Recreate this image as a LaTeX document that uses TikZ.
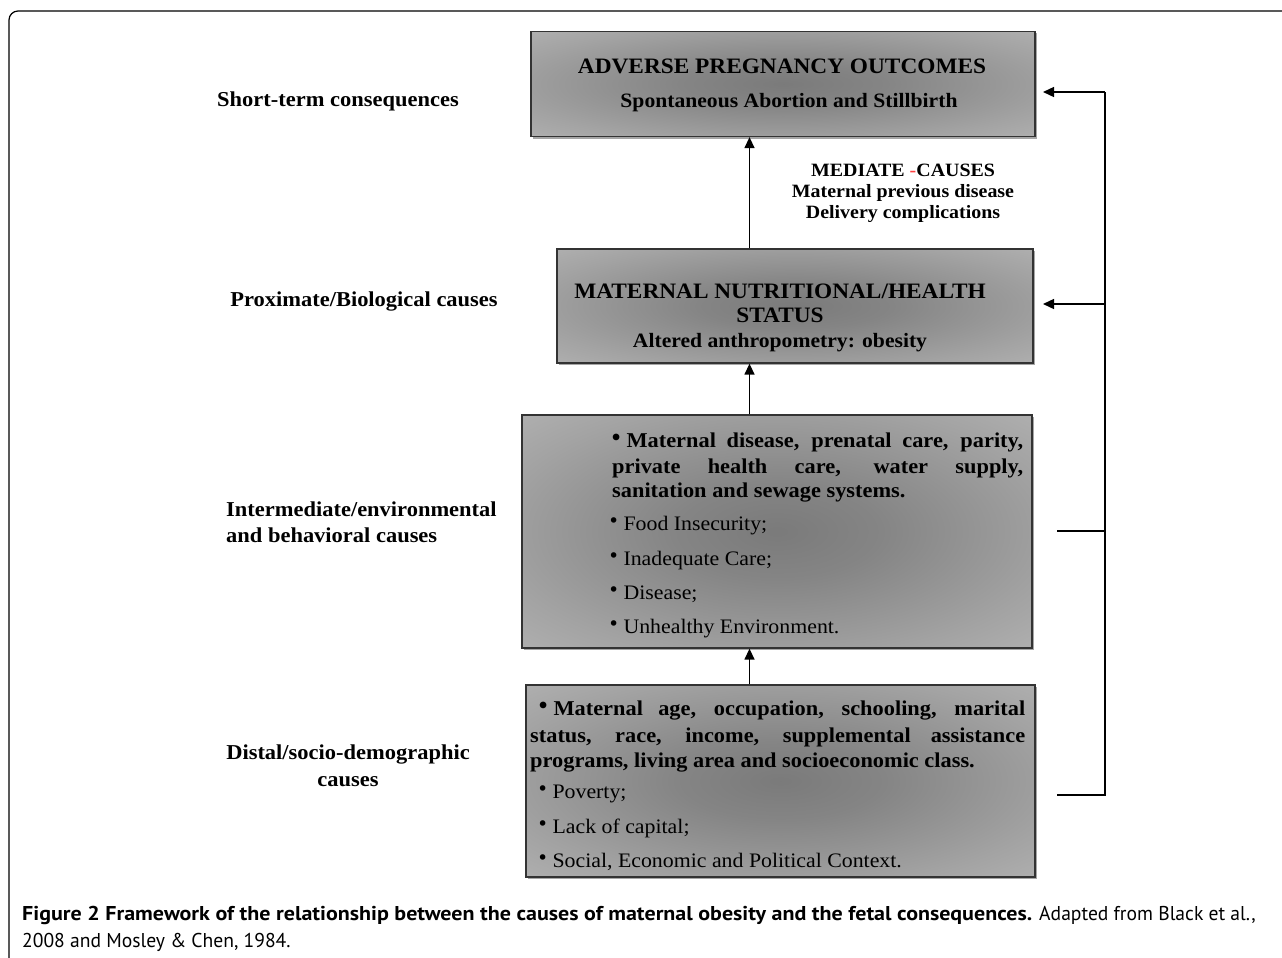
\documentclass[tikz,border=0pt]{standalone}
\usepackage{fontspec}
\usepackage{graphicx}
\setmainfont[FakeStretch=1.06]{Liberation Serif}
\newfontfamily\capfont[FakeStretch=0.98,BoldFeatures={FakeStretch=1.1}]{PT Sans}
\newfontfamily\bulfont{DejaVu Sans}
\usetikzlibrary{arrows.meta,shadows}
\pgfdeclareradialshading{boxshade}{\pgfpoint{0bp}{0bp}}{%
  color(0bp)=(black!52);
  color(10bp)=(black!48);
  color(28bp)=(black!36);
  color(48bp)=(black!24);
  color(71bp)=(black!18)}
\tikzset{
  gbox/.style={draw=black!80,line width=1.3pt,shading=boxshade,
    drop shadow={shadow xshift=1.5pt,shadow yshift=-2pt,opacity=0.35,fill=black},
    minimum width=#1, inner sep=0pt},
  arr/.style={line width=1.4pt,-{Triangle[length=11pt,width=10pt]}},
  conn/.style={line width=1.3pt},
  lab/.style={font=\fontsize{21.2}{24}\selectfont\bfseries,inner sep=0pt},
  capslab/.style={font=\fontsize{22}{24}\selectfont\bfseries,inner sep=0pt,anchor=base},
  sublab/.style={font=\fontsize{20.4}{24}\selectfont\bfseries,inner sep=0pt,anchor=base},
  medlab/.style={font=\fontsize{18.8}{22}\selectfont\bfseries,inner sep=0pt,anchor=base},
  btxt/.style={font=\fontsize{21.1}{24}\selectfont\bfseries,inner sep=0pt,anchor=base west},
  rtxt/.style={font=\fontsize{20.6}{24}\selectfont,inner sep=0pt,anchor=base west},
  captxt/.style={font=\capfont\fontsize{20}{24}\selectfont,inner sep=0pt,anchor=base west},
}
\newcommand{\bul}{\raisebox{3pt}{{\bulfont\fontsize{19}{19}\selectfont •}}\hspace{0.2em}}
\begin{document}
\begin{tikzpicture}[x=1pt,y=-1pt]
\useasboundingbox (0,0) rectangle (1282,958);
\fill[white] (0,0) rectangle (1282,958);
% outer frame
\draw[line width=1.2pt,rounded corners=9pt] (9,960) -- (9,11) -- (1284,11);

% boxes
\node[gbox=504pt,minimum height=105pt] (b1) at (783,84) {};
\node[gbox=476pt,minimum height=114pt] (b2) at (795,306) {};
\node[gbox=510pt,minimum height=233pt] (b3) at (777,531.5) {};
\node[gbox=509pt,minimum height=192pt] (b4) at (780.5,781) {};

% box 1 text
\node[capslab] (t1a) at (782,74) {ADVERSE PREGNANCY OUTCOMES};
\node[sublab] (t1b) at (789,107) {Spontaneous Abortion and Stillbirth};
% box 2 text
\node[capslab] (t2a) at (780,298) {MATERNAL NUTRITIONAL/HEALTH};
\node[capslab] (t2b) at (780,322) {STATUS};
\node[sublab] (t2c) at (780,347) {Altered anthropometry: obesity};
% mediate causes
\node[medlab] (m1) at (903,176) {MEDIATE {\color{red!75}-}CAUSES};
\node[medlab] (m2) at (903,197) {Maternal previous disease};
\node[medlab] (m3) at (903,218) {Delivery complications};

% box 3 text
\node[btxt] (p1) at (610,447) {\makebox[413pt][s]{\bul Maternal disease, prenatal care, parity,}};
\node[btxt] (p2) at (612,473) {\makebox[411pt][s]{private health care, water supply,}};
\node[btxt] (p3) at (612,497) {sanitation and sewage systems.};
\node[rtxt] (p4) at (608,530) {\bul Food Insecurity;};
\node[rtxt] (p5) at (608,565) {\bul Inadequate Care;};
\node[rtxt] (p6) at (608,599) {\bul Disease;};
\node[rtxt] (p7) at (608,633) {\bul Unhealthy Environment.};

% box 4 text
\node[btxt] (q1) at (537,715) {\makebox[488pt][s]{\bul Maternal age, occupation, schooling, marital}};
\node[btxt] (q2) at (530,742) {\makebox[495pt][s]{status, race, income, supplemental assistance}};
\node[btxt] (q3) at (530,767) {programs, living area and socioeconomic class.};
\node[rtxt] (q4) at (537,798) {\bul Poverty;};
\node[rtxt] (q5) at (537,833) {\bul Lack of capital;};
\node[rtxt] (q6) at (537,867) {\bul Social, Economic and Political Context.};

% left labels
\node[lab,anchor=base] (l1) at (338,106) {Short-term consequences};
\node[lab,anchor=base] (l2) at (364,306) {Proximate/Biological causes};
\node[lab,anchor=base west] (l3a) at (226,516) {Intermediate/environmental};
\node[lab,anchor=base west] (l3b) at (226,542) {and behavioral causes};
\node[lab,anchor=base] (l4a) at (348,759) {Distal/socio-demographic};
\node[lab,anchor=base] (l4b) at (348,786) {causes};

% vertical arrows
\coordinate (ax) at (749.5,0);
\draw[arr] (b2.north -| ax) -- (b1.south -| ax);
\draw[arr] (b3.north -| ax) -- (b2.south -| ax);
\draw[arr] (b4.north -| ax) -- (b3.south -| ax);

% right feedback connector
\coordinate (rx) at (1105,0);
\coordinate (s3) at (1057,531);
\coordinate (s4) at (1057,795);
\coordinate (e1) at (1043,92);
\coordinate (e2) at (1043,304);
\draw[conn] (s4) -- (s4 -| rx) -- (rx |- e1);
\draw[conn] (s3) -- (s3 -| rx);
\draw[arr] (rx |- e1) -- (e1);
\draw[arr] (rx |- e2) -- (e2);

% caption
\node[captxt] (c1) at (22,920) {\textbf{Figure 2 Framework of the relationship between the causes of maternal obesity and the fetal consequences.} Adapted from Black et al.,};
\node[captxt] (c2) at (22,947) {2008 and Mosley \& Chen, 1984.};
\end{tikzpicture}
\end{document}
